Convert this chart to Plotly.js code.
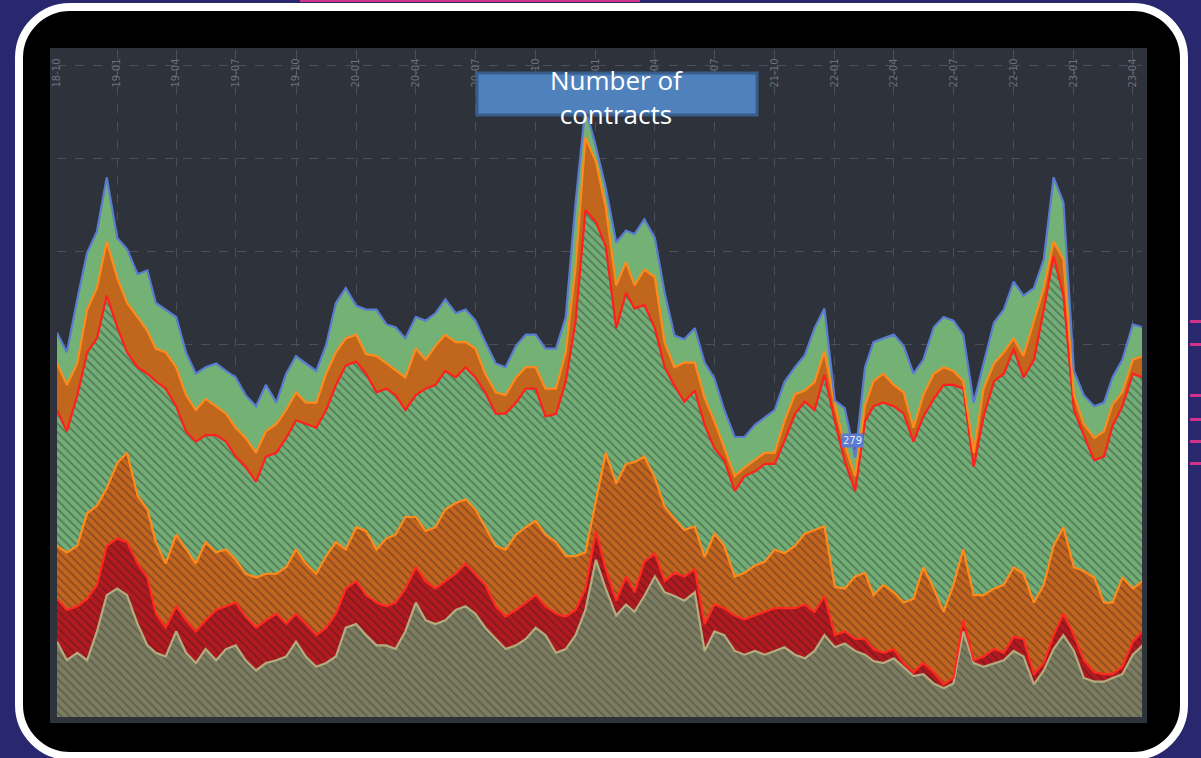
<!DOCTYPE html>
<html>
<head>
<meta charset="utf-8">
<script src="https://cdn.plot.ly/plotly-3.0.1.min.js"></script>
<style>
  html, body { margin:0; padding:0; width:1201px; height:758px; overflow:hidden; background:#29286f; }
  #frame { position:absolute; left:15px; top:3px; width:1157px; height:741px; border:8px solid #ffffff; border-radius:55px; background:#000; }
  #chart { position:absolute; left:50px; top:48px; width:1097px; height:675px; }
  .pink { position:absolute; height:3px; background:#d0338a; }
</style>
</head>
<body>
<div class="pink" style="left:1190px;top:320px;width:11px"></div>
<div class="pink" style="left:1190px;top:343px;width:11px"></div>
<div class="pink" style="left:1190px;top:394px;width:11px"></div>
<div class="pink" style="left:1190px;top:418px;width:11px"></div>
<div class="pink" style="left:1190px;top:440px;width:11px"></div>
<div class="pink" style="left:1190px;top:462px;width:11px"></div>
<div class="pink" style="left:300px;top:0px;width:340px;height:2px"></div>
<div id="frame"></div>
<div id="chart"></div>
<script>
const dates = [
 '2018-10-01','2018-10-16','2018-11-01','2018-11-16','2018-12-01','2018-12-16',
 '2019-01-01','2019-01-16','2019-02-01','2019-02-16','2019-03-01','2019-03-16','2019-04-01','2019-04-16',
 '2019-05-01','2019-05-16','2019-06-01','2019-06-16','2019-07-01','2019-07-16','2019-08-01','2019-08-16',
 '2019-09-01','2019-09-16','2019-10-01','2019-10-16','2019-11-01','2019-11-16','2019-12-01','2019-12-16',
 '2020-01-01','2020-01-16','2020-02-01','2020-02-16','2020-03-01','2020-03-16','2020-04-01','2020-04-16',
 '2020-05-01','2020-05-16','2020-06-01','2020-06-16','2020-07-01','2020-07-16','2020-08-01','2020-08-16',
 '2020-09-01','2020-09-16','2020-10-01','2020-10-16','2020-11-01','2020-11-16','2020-12-01','2020-12-16',
 '2021-01-01','2021-01-16','2021-02-01','2021-02-16','2021-03-01','2021-03-16','2021-04-01','2021-04-16',
 '2021-05-01','2021-05-16','2021-06-01','2021-06-16','2021-07-01','2021-07-16','2021-08-01','2021-08-16',
 '2021-09-01','2021-09-16','2021-10-01','2021-10-16','2021-11-01','2021-11-16','2021-12-01','2021-12-16',
 '2022-01-01','2022-01-16','2022-02-01','2022-02-16','2022-03-01','2022-03-16','2022-04-01','2022-04-16',
 '2022-05-01','2022-05-16','2022-06-01','2022-06-16','2022-07-01','2022-07-16','2022-08-01','2022-08-16',
 '2022-09-01','2022-09-16','2022-10-01','2022-10-16','2022-11-01','2022-11-16','2022-12-01','2022-12-16',
 '2023-01-01','2023-01-16','2023-02-01','2023-02-16','2023-03-01','2023-03-16','2023-04-01','2023-04-16'
];

// cumulative levels (top edge of each band)
const levelTotal = [
 413,392,449,499,522,580,515,503,476,480, 445,438,430,392,369,376,380,372,365,346,
 334,357,338,369,388,380,372,400,445,461, 442,438,438,422,419,407,430,426,434,449,
 434,438,426,403,380,376,399,411,411,396, 396,430,553,655,613,569,510,523,519,535,
 515,456,410,406,418,381,364,330,301,301, 314,322,330,360,376,389,418,439,340,332,
 279,376,403,407,411,399,369,384,419,430, 426,411,338,380,424,438,468,453,461,492,
 580,553,372,346,334,338,365,384,422,419
];
const levelOrange = [
 380,357,380,438,461,511,472,445,430,415, 396,392,376,346,330,342,334,326,311,300,
 284,307,315,330,349,338,338,369,392,407, 411,390,388,380,372,365,396,384,399,411,
 403,403,396,369,349,346,365,376,376,353, 353,392,484,623,597,548,464,489,464,481,
 473,402,376,381,381,343,318,289,259,268, 276,284,284,318,347,351,360,393,335,292,
 259,335,361,369,357,349,311,346,369,376, 372,361,284,353,380,392,407,388,426,461,
 511,492,346,315,300,307,336,349,384,388
];
const levelRed = [
 330,307,346,392,407,453,419,392,376,369, 361,353,334,307,296,303,303,296,280,269,
 253,280,284,300,319,315,311,330,357,378, 382,369,349,353,346,330,346,353,357,372,
 365,376,365,349,326,326,338,353,353,323, 326,361,426,545,532,506,418,456,439,443,
 418,376,356,339,351,314,289,276,243,259, 264,272,272,297,326,339,330,368,318,275,
 243,318,334,338,334,326,296,323,342,357, 357,353,269,323,361,369,396,365,384,438,
 495,453,330,303,276,280,313,334,369,365
];
const levelC = [
 184,177,184,219,227,246,273,284,238,223, 188,165,196,180,165,188,177,180,169,154,
 150,154,154,161,180,165,154,173,188,180, 204,200,180,192,196,215,215,200,204,223,
 230,234,223,204,184,180,196,204,211,196, 188,173,173,177,234,284,251,272,274,280,
 257,226,213,201,205,172,197,184,151,155, 163,167,180,176,184,197,201,205,140,138,
 151,155,131,142,134,123,127,161,138,113, 142,180,131,131,138,142,161,154,123,142,
 184,204,161,157,150,123,123,150,138,146
];
const levelB = [
 127,115,119,127,142,184,192,188,165,150, 111,96,119,104,92,104,115,119,123,108,
 96,104,111,100,111,100,88,96,111,138, 146,131,123,119,123,138,161,146,138,146,
 154,165,154,142,119,108,115,123,131,119, 111,108,115,138,200,159,125,151,134,167,
 176,146,155,151,159,100,121,117,109,105, 109,113,117,117,117,121,113,130,88,92,
 84,84,73,69,73,58,48,58,48,35, 42,104,61,65,73,69,86,84,46,58,
 88,111,88,61,48,46,46,54,81,92
];
const levelA = [
 81,61,69,61,92,131,138,131,100,77, 69,65,92,69,58,73,61,73,77,61,
 50,58,61,65,81,65,54,58,65,96, 100,88,77,77,73,92,123,104,100,104,
 115,119,111,96,84,73,77,84,96,88, 69,73,88,115,169,138,109,121,113,130,
 151,134,130,125,134,71,92,88,71,67, 71,67,71,75,67,63,71,88,75,79,
 71,67,60,58,63,54,44,46,36,31, 36,92,58,54,58,61,71,65,35,50,
 73,88,71,42,38,38,42,46,67,77
];
const calloutIndex = 80;
const titleText = 'Number of<br>contracts';

function band(y, fill, line, lineColor, pattern) {
  const t = { x: dates, y: y, type: 'scatter', mode: 'lines', fill: fill,
    line: { color: lineColor, width: 2.2 }, hoverinfo: 'skip', showlegend: false };
  if (pattern) {
    t.fillcolor = pattern[0];
    t.fillpattern = { shape: '\\', size: 6, solidity: 0.3, bgcolor: pattern[0], fgcolor: pattern[1], fgopacity: 1 };
  } else {
    t.fillcolor = line;
  }
  return t;
}

const traces = [
  band(levelA, 'tozeroy', null, '#b4ac7f', ['#7b7c60', '#5f604c']),
  band(levelB, 'tonexty', null, '#ff2a1f', ['#b31a20', '#7e1a1f']),
  band(levelC, 'tonexty', null, '#ff8a1c', ['#c2661f', '#8c4a22']),
  band(levelRed, 'tonexty', null, '#ff1f1f', ['#74ad76', '#4f7c58']),
  band(levelOrange, 'tonexty', '#c1661d', '#ff8a1c', null),
  band(levelTotal, 'tonexty', '#74b175', '#5b7bd0', null)
];

const layout = {
  width: 1097, height: 675,
  margin: { l: 7, r: 5, t: 2, b: 6 },
  paper_bgcolor: '#2e333b', plot_bgcolor: '#2e333b',
  showlegend: false,
  xaxis: {
    type: 'date', range: ['2018-10-01', '2023-04-15'],
    side: 'top', ticklabelposition: 'inside', ticklabeloverflow: 'allow', tickangle: -90,
    tick0: '2018-10-01', dtick: 'M3', tickformat: '%y-%m',
    tickfont: { family: 'DejaVu Sans', size: 10, color: '#6c717a' },
    showgrid: true, gridcolor: '#4a5059', griddash: 'dash', gridwidth: 1,
    zeroline: false, showline: false, ticks: ''
  },
  yaxis: {
    range: [0, 717], dtick: 100, showticklabels: false,
    showgrid: true, gridcolor: '#4a5059', griddash: 'dash', gridwidth: 1,
    zeroline: false, showline: false, ticks: ''
  },
  shapes: [{
    type: 'rect', xref: 'paper', yref: 'paper', layer: 'above',
    x0: 0.3871, x1: 0.6452, y0: 0.9025, y1: 0.9655,
    fillcolor: '#4f81bd', line: { color: '#385d8a', width: 3 }
  }],
  annotations: [
    { xref: 'paper', yref: 'paper', x: 0.516, y: 0.93, xanchor: 'center', yanchor: 'middle',
      text: titleText, showarrow: false,
      font: { family: 'Open Sans', size: 26, color: '#ffffff' } },
    { x: dates[calloutIndex], y: levelTotal[calloutIndex], text: String(levelTotal[calloutIndex]),
      showarrow: false, yshift: 17, xshift: -3, bgcolor: '#5b7bd0', borderpad: 1,
      font: { family: 'DejaVu Sans', size: 10, color: '#e8ecf5' } }
  ]
};

Plotly.newPlot('chart', traces, layout, { displayModeBar: false, staticPlot: true });
</script>
</body>
</html>
